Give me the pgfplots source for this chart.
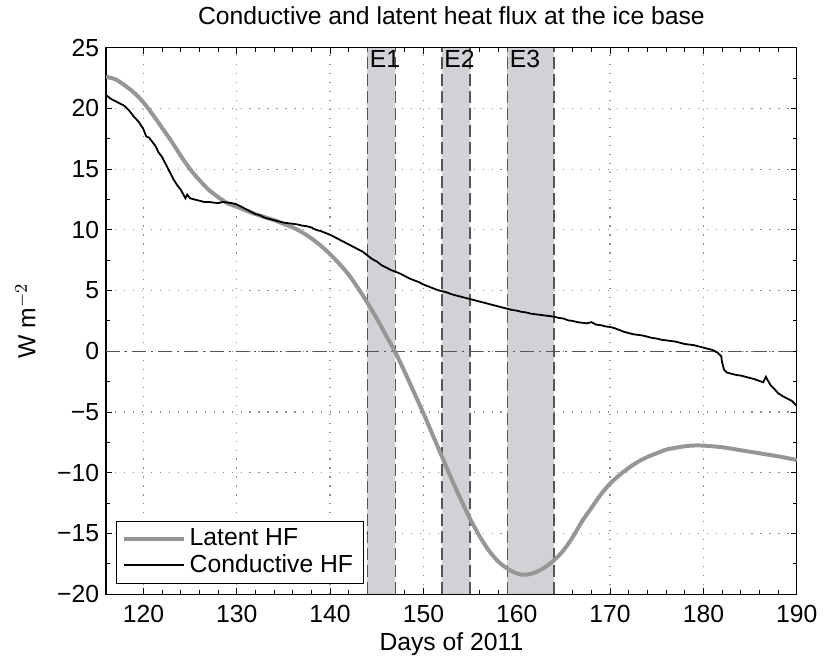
\documentclass[border=0pt]{standalone}
\usepackage{fontspec}
\setmainfont{Liberation Sans}
\usepackage{pgfplots}
\pgfplotsset{compat=1.18}
\definecolor{bandgray}{RGB}{209,210,213}
\definecolor{latgray}{RGB}{150,150,150}
\definecolor{edgegray}{RGB}{85,85,85}
\pgfplotsset{
  layers/bandlayers/.define layer set={axis background,axis grid,main,axis ticks,axis lines,axis tick labels,axis descriptions,axis foreground}{},
}
\newcommand{\fs}{\fontsize{12.4}{14}\selectfont}
\begin{document}
\begin{tikzpicture}
\begin{axis}[
    set layers=bandlayers,
    scale only axis,
    width=346.75pt, height=274.3pt,
    xmin=116, xmax=190, ymin=-20, ymax=25,
    xtick={120,130,...,190},
    ytick={-20,-15,...,25},
    yticklabels={−20,−15,−10,−5,0,5,10,15,20,25},
    minor x tick num=4,
    minor y tick num=1,
    major tick length=3pt, minor tick length=2pt,
    tick style={black, line width=0.5pt},
    axis line style={black, line width=0.6pt},
    grid=major,
    grid style={gray!90, line width=0.6pt, dash pattern=on 0.6pt off 3.9pt},
    ticklabel style={font=\fs},
    xticklabel style={yshift=-2pt},
    /pgf/number format/assume math mode=true,
    xlabel={Days of 2011},
    ylabel={W m$^{-2}$},
    label style={font=\fs},
    xlabel style={yshift=2pt},
    ylabel style={yshift=4pt},
    title={Conductive and latent heat flux at the ice base},
    title style={font=\fs, yshift=2pt},
    legend style={at={(0.0137,0.018)}, anchor=south west, draw=black, line width=0.5pt,
        font=\fs, row sep=-1pt, inner xsep=3pt, inner ysep=2pt},
    legend cell align=left,
    legend image code/.code={\draw[#1] (0pt,0pt) -- (30pt,0pt);},
]
% event bands
\addplot[fill=bandgray, draw=none, forget plot] coordinates {(144,-20) (144,25) (147,25) (147,-20)} -- cycle;
\addplot[fill=bandgray, draw=none, forget plot] coordinates {(152,-20) (152,25) (155,25) (155,-20)} -- cycle;
\addplot[fill=bandgray, draw=none, forget plot] coordinates {(159,-20) (159,25) (164,25) (164,-20)} -- cycle;
\addplot[edgegray, line width=0.6pt, dash pattern=on 6pt off 2.5pt, forget plot] coordinates {(144,-20) (144,25)};
\addplot[edgegray, line width=0.6pt, dash pattern=on 6pt off 2.5pt, forget plot] coordinates {(147,-20) (147,25)};
\addplot[edgegray, line width=0.6pt, dash pattern=on 6pt off 2.5pt, forget plot] coordinates {(152,-20) (152,25)};
\addplot[edgegray, line width=0.6pt, dash pattern=on 6pt off 2.5pt, forget plot] coordinates {(155,-20) (155,25)};
\addplot[edgegray, line width=0.6pt, dash pattern=on 6pt off 2.5pt, forget plot] coordinates {(159,-20) (159,25)};
\addplot[edgegray, line width=0.6pt, dash pattern=on 6pt off 2.5pt, forget plot] coordinates {(164,-20) (164,25)};
% zero line
\addplot[edgegray, line width=0.6pt, dash pattern=on 7pt off 2.5pt on 1pt off 2.5pt, forget plot] coordinates {(116,0) (190,0)};
\node[anchor=north west, inner sep=1pt, font=\fs] at (axis cs:144,25) {E1};
\node[anchor=north west, inner sep=1pt, font=\fs] at (axis cs:152,25) {E2};
\node[anchor=north west, inner sep=1pt, font=\fs] at (axis cs:159,25) {E3};
% latent heat flux
\addplot[latgray, line width=2pt, smooth] coordinates {
 (116,22.6) (117,22.4) (118,21.9) (119,21.3) (120,20.5) (121,19.5) (122,18.4)
 (123,17.3) (124,16.1) (125,15.0) (126,14.1) (127,13.3) (128,12.7) (129,12.2)
 (130,11.9) (132,11.3) (134,10.8) (135,10.5) (136,10.2) (137,9.8) (138,9.3)
 (139,8.7) (140,8.0) (141,7.2) (142,6.3) (143,5.2) (144,4.0) (145,2.7) (146,1.3)
 (147,-0.1) (148,-1.7) (149,-3.4) (150,-5.1) (151,-6.9) (152,-8.7) (153,-10.5)
 (154,-12.2) (155,-13.8) (156,-15.2) (157,-16.4) (158,-17.3) (159,-17.9)
 (160,-18.3) (161,-18.4) (162,-18.2) (163,-17.8) (164,-17.2) (165,-16.4)
 (166,-15.3) (167,-14.0) (168,-12.9) (169,-11.8) (170,-10.9) (171,-10.2)
 (172,-9.6) (173,-9.1) (174,-8.7) (175,-8.4) (176,-8.1) (177,-7.95) (178,-7.82)
 (179,-7.76) (180,-7.77) (182,-7.9) (184,-8.15) (186,-8.4) (188,-8.65) (190,-8.95)
};
\addlegendentry{Latent HF}
% conductive heat flux
\addplot[black, line width=0.9pt] coordinates {
 (116,21.1) (116.5,20.8) (117,20.6) (117.5,20.4) (118,20.2) (118.5,19.8) (119,19.3)
 (119.5,18.9) (120,18.3) (120.3,17.7) (120.6,17.6) (121,17.2) (121.3,16.9) (121.6,16.4)
 (122,16.0) (122.4,15.4) (122.8,14.8) (123.2,14.2) (123.6,13.7) (124,13.3) (124.3,12.9)
 (124.5,12.6) (124.7,12.9) (125,12.6) (125.5,12.5) (126,12.4) (126.5,12.3) (127,12.3)
 (127.5,12.25) (128,12.2) (128.5,12.3) (129,12.25) (129.5,12.2) (130,12.1) (130.5,11.9)
 (131,11.7) (131.5,11.5) (132,11.3) (132.5,11.2) (133,11.0) (133.5,10.9) (134,10.8)
 (134.5,10.7) (135,10.6) (135.5,10.55) (136,10.5) (136.5,10.45) (137,10.35) (137.5,10.3)
 (138,10.2) (138.5,10.0) (139,9.9) (139.5,9.75) (140,9.6) (140.5,9.4) (141,9.2)
 (141.5,9.0) (142,8.8) (142.5,8.6) (143,8.4) (143.5,8.2) (144,7.9) (144.5,7.6)
 (145,7.4) (145.5,7.1) (146,6.9) (146.5,6.7) (147,6.55) (147.5,6.4) (148,6.2)
 (148.5,6.0) (149,5.85) (149.5,5.7) (150,5.5) (150.5,5.35) (151,5.2) (151.5,5.05)
 (152,4.95) (152.5,4.85) (153,4.7) (153.5,4.6) (154,4.5) (154.5,4.4) (155,4.3)
 (155.5,4.2) (156,4.1) (156.5,4.0) (157,3.9) (157.5,3.8) (158,3.7) (158.5,3.6)
 (159,3.5) (159.5,3.4) (160,3.35) (160.5,3.25) (161,3.2) (161.5,3.1) (162,3.05)
 (162.5,3.0) (163,2.95) (163.5,2.9) (164,2.85) (164.5,2.75) (165,2.7) (165.5,2.55)
 (166,2.5) (166.5,2.4) (167,2.35) (167.5,2.3) (168,2.4) (168.5,2.2) (169,2.15)
 (169.5,2.05) (170,2.0) (170.5,1.9) (171,1.75) (171.5,1.6) (172,1.5) (172.5,1.4)
 (173,1.35) (173.5,1.3) (174,1.2) (174.5,1.1) (175,1.05) (175.5,0.95) (176,0.9)
 (176.5,0.85) (177,0.8) (177.5,0.7) (178,0.6) (178.5,0.55) (179,0.5) (179.5,0.4)
 (180,0.3) (180.5,0.2) (181,0.1) (181.5,-0.1) (181.9,-0.4) (182.0,-0.9) (182.2,-1.5)
 (182.5,-1.75) (183,-1.85) (183.5,-1.95) (184,-2.0) (184.5,-2.1) (185,-2.2)
 (185.5,-2.3) (186,-2.45) (186.4,-2.55) (186.7,-2.1) (186.9,-2.4) (187.2,-2.8)
 (187.6,-3.1) (188,-3.45) (188.5,-3.7) (189,-3.9) (189.5,-4.1) (190,-4.5)
};
\addlegendentry{Conductive HF}
\end{axis}
\path (current axis.south west) ++(-53.25pt,-33.85pt) coordinate (bbsw);
\path (current axis.north east) ++(12pt,22.85pt) coordinate (bbne);
\path (bbsw) rectangle (bbne);
\end{tikzpicture}
\end{document}
